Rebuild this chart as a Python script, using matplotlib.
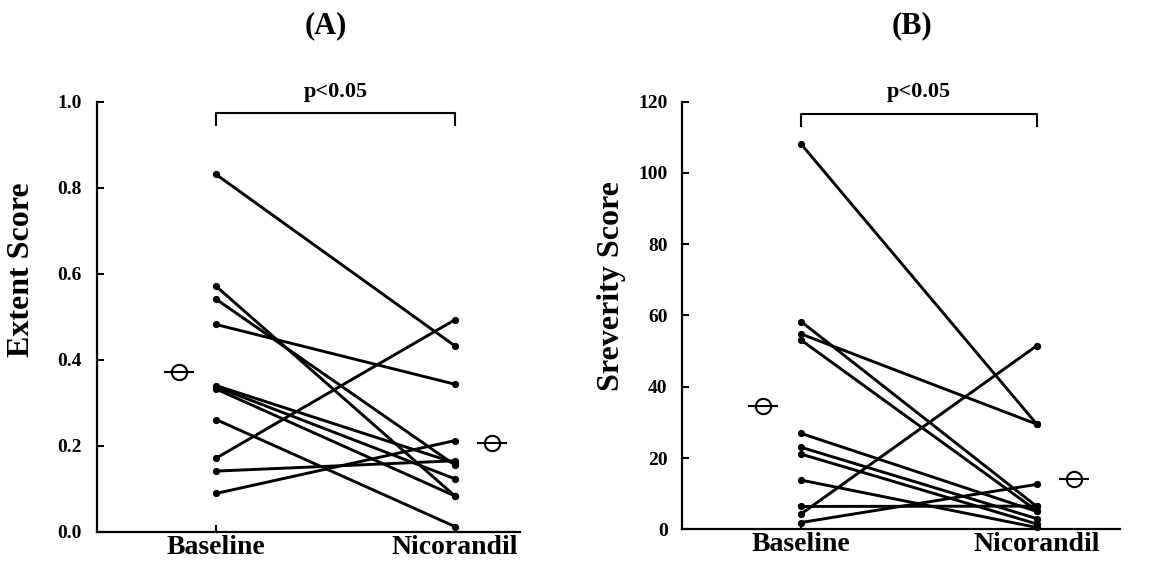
import matplotlib
matplotlib.use("Agg")
import matplotlib.pyplot as plt

plt.rcParams['font.family'] = ['Liberation Serif', 'DejaVu Serif']
plt.rcParams['font.weight'] = 'bold'

# ---- data ----
groups = ["Baseline", "Nicorandil"]

extent_baseline = [0.831, 0.571, 0.541, 0.482, 0.340, 0.337, 0.332, 0.261, 0.171, 0.141, 0.089]
extent_nicorandil = [0.432, 0.083, 0.155, 0.343, 0.160, 0.123, 0.083, 0.012, 0.493, 0.165, 0.212]
extent_means = [0.372, 0.206]

severity_baseline = [108.1, 58.3, 54.8, 53.1, 26.9, 23.0, 21.1, 13.8, 6.4, 4.3, 1.9]
severity_nicorandil = [29.5, 6.4, 29.5, 5.2, 5.0, 3.0, 1.5, 0.5, 6.5, 51.5, 12.6]
severity_means = [34.6, 14.0]

extent_ticks = [0.0, 0.2, 0.4, 0.6, 0.8, 1.0]
extent_ticklabels = ["0.0", "0.2", "0.4", "0.6", "0.8", "1.0"]
severity_ticks = [0, 20, 40, 60, 80, 100, 120]
severity_ticklabels = ["0", "20", "40", "60", "80", "100", "120"]

fig = plt.figure(figsize=(11.52, 5.72), dpi=100)
fig.patch.set_facecolor('white')

axA = fig.add_axes([0.0842, 0.0704, 0.3672, 0.7517])
axB = fig.add_axes([0.5916, 0.0747, 0.3806, 0.7476])


def draw(ax, base, nico, means, ylim, ticks, ticklabels, ylabel, xlim, mean_x,
         bracket_y, bracket_leg, ptext_y, ylabel_pos, ytick_pad):
    x = [1, 2]
    for b, n in zip(base, nico):
        ax.plot(x, [b, n], color='black', lw=2.1, marker='o', ms=4.2,
                solid_capstyle='round', clip_on=False, zorder=3)
    # mean markers
    for mx, m in zip(mean_x, means):
        ax.plot([mx], [m], marker='o', ms=11, mfc='none', mec='black', mew=1.5,
                ls='none', clip_on=False, zorder=4)
        ax.plot([mx], [m], marker='_', ms=21, mec='black', mew=1.5,
                ls='none', clip_on=False, zorder=4)
    # bracket
    ax.plot([1, 1, 2, 2], [bracket_leg, bracket_y, bracket_y, bracket_leg],
            color='black', lw=1.5, clip_on=False)
    ax.text(1.5, ptext_y, "p<0.05", ha='center', va='baseline',
            fontsize=16, fontweight='bold')

    ax.set_xlim(*xlim)
    ax.set_ylim(*ylim)
    ax.set_xticks(x)
    ax.set_xticklabels(groups, fontsize=20, fontweight='bold')
    ax.set_yticks(ticks)
    ax.set_yticklabels(ticklabels, fontsize=14, fontweight='bold')
    ax.tick_params(axis='y', direction='in', length=5, width=1.5, pad=ytick_pad)
    ax.tick_params(axis='x', direction='in', length=5, width=1.5, pad=2)
    for s in ['top', 'right']:
        ax.spines[s].set_visible(False)
    for s in ['left', 'bottom']:
        ax.spines[s].set_linewidth(1.6)
    ax.set_ylabel(ylabel, fontsize=23, fontweight='bold')
    ax.yaxis.set_label_coords(*ylabel_pos)


draw(axA, extent_baseline, extent_nicorandil, extent_means, (0, 1.0),
     extent_ticks, extent_ticklabels, "Extent Score", (0.502, 2.272),
     [0.845, 2.155], 0.974, 0.946, 1.011, (-0.145, 0.609), 11)

draw(axB, severity_baseline, severity_nicorandil, severity_means, (0, 120),
     severity_ticks, severity_ticklabels, "Sreverity Score", (0.493, 2.353),
     [0.84, 2.16], 116.6, 113.2, 121.3, (-0.127, 0.569), 10)

fig.text(0.2827, 0.9545, "(A)", ha='center', va='center', fontsize=22, fontweight='bold')
fig.text(0.7914, 0.9545, "(B)", ha='center', va='center', fontsize=22, fontweight='bold')

fig.savefig("out.png", dpi=100, facecolor='white')
